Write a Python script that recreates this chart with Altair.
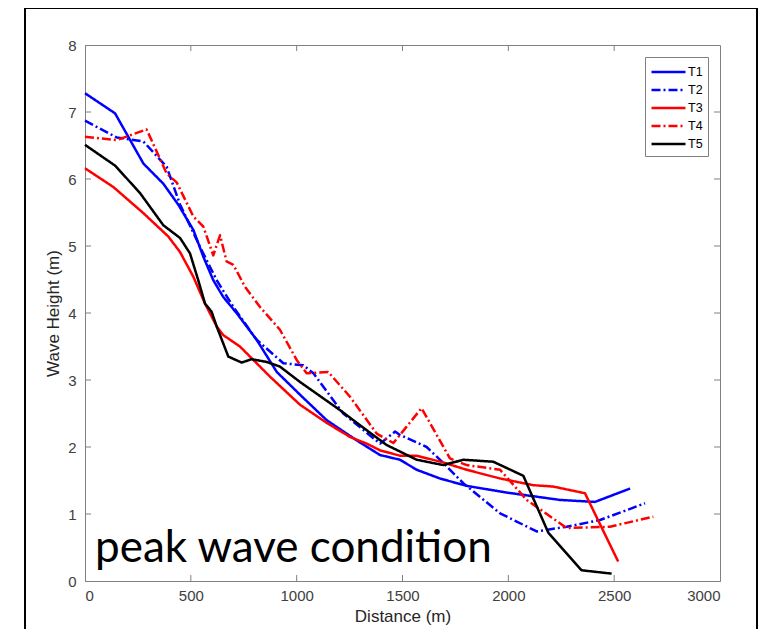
import altair as alt
import pandas as pd

# ---- data ----
T1_x = [0, 142, 276, 370, 440, 512, 559, 606, 653, 716, 811, 906, 1016, 1142, 1283, 1394, 1488, 1567, 1677, 1803, 1992, 2244, 2409, 2575]
T1_y = [7.28, 6.98, 6.23, 5.93, 5.62, 5.24, 4.84, 4.49, 4.24, 4.0, 3.6, 3.12, 2.78, 2.4, 2.1, 1.88, 1.81, 1.66, 1.53, 1.42, 1.32, 1.21, 1.18, 1.38]

T2_x = [0, 150, 276, 386, 449, 543, 622, 701, 811, 937, 1031, 1079, 1220, 1394, 1465, 1488, 1614, 1693, 1787, 1961, 2134, 2276, 2433, 2646]
T2_y = [6.87, 6.62, 6.56, 6.18, 5.62, 4.99, 4.49, 4.09, 3.6, 3.25, 3.22, 3.1, 2.5, 2.05, 2.23, 2.18, 2.0, 1.76, 1.46, 1.01, 0.74, 0.81, 0.91, 1.16]

T3_x = [0, 134, 276, 394, 449, 512, 567, 622, 653, 732, 795, 874, 1016, 1142, 1252, 1331, 1394, 1488, 1567, 1692, 1803, 1961, 2118, 2211, 2362, 2519]
T3_y = [6.16, 5.88, 5.49, 5.14, 4.91, 4.54, 4.14, 3.8, 3.67, 3.5, 3.3, 3.05, 2.63, 2.36, 2.15, 2.05, 1.95, 1.87, 1.87, 1.77, 1.66, 1.53, 1.43, 1.41, 1.31, 0.29]

T4_x = [0, 150, 291, 386, 433, 512, 559, 606, 638, 669, 701, 756, 827, 921, 1000, 1047, 1149, 1252, 1378, 1457, 1590, 1724, 1803, 1961, 2087, 2276, 2480, 2685]
T4_y = [6.63, 6.58, 6.74, 6.08, 5.95, 5.44, 5.29, 4.86, 5.16, 4.77, 4.72, 4.39, 4.09, 3.75, 3.3, 3.1, 3.12, 2.75, 2.2, 2.06, 2.58, 1.83, 1.73, 1.66, 1.21, 0.79, 0.81, 0.96]

T5_x = [0, 142, 260, 370, 449, 496, 535, 567, 598, 622, 677, 740, 787, 858, 921, 1016, 1205, 1331, 1425, 1567, 1693, 1787, 1929, 2071, 2189, 2346, 2488]
T5_y = [6.51, 6.2, 5.79, 5.31, 5.12, 4.89, 4.49, 4.14, 4.02, 3.8, 3.35, 3.26, 3.31, 3.27, 3.2, 2.97, 2.55, 2.25, 2.03, 1.81, 1.73, 1.81, 1.78, 1.57, 0.72, 0.16, 0.11]

series_names = ["T1", "T2", "T3", "T4", "T5"]
series_colors = ["#0000FF", "#0000FF", "#FF0000", "#FF0000", "#000000"]
series_dash = [[1, 0], [9, 3, 2, 3], [1, 0], [9, 3, 2, 3], [1, 0]]

x_ticks = [0, 500, 1000, 1500, 2000, 2500, 3000]
y_ticks = [0, 1, 2, 3, 4, 5, 6, 7, 8]
annotation = "peak wave condition"

# ---- build table ----
rows = []
for name, xs, ys in zip(series_names, [T1_x, T2_x, T3_x, T4_x, T5_x], [T1_y, T2_y, T3_y, T4_y, T5_y]):
    for i, (a, b) in enumerate(zip(xs, ys)):
        rows.append({"series": name, "order": i, "dist": a, "h": b})
df = pd.DataFrame(rows)

W, H = 635, 536
GRAY = "#808080"

xscale = alt.Scale(domain=[0, 3000], nice=False, zero=False)
yscale = alt.Scale(domain=[0, 8], nice=False, zero=False)

lines = alt.Chart(df).mark_line(strokeWidth=2.5, strokeJoin="round").encode(
    x=alt.X("dist:Q", scale=xscale,
            axis=alt.Axis(title="Distance (m)", values=x_ticks, format="d", ticks=False,
                          labelPadding=7, titlePadding=5, grid=False)),
    y=alt.Y("h:Q", scale=yscale,
            axis=alt.Axis(title="Wave Height (m)", values=y_ticks, format="d", ticks=False,
                          labelPadding=9, titlePadding=5, grid=False)),
    color=alt.Color("series:N", scale=alt.Scale(domain=series_names, range=series_colors),
                    legend=alt.Legend(title=None, orient="none", legendX=560, legendY=12,
                                      symbolType="M-1,0H3", symbolSize=289, symbolStrokeWidth=2.5,
                                      labelFontSize=12.5, labelFont="Liberation Sans", labelColor="#000000",
                                      fillColor="white", strokeColor=GRAY, padding=5,
                                      rowPadding=1, labelOffset=18)),
    strokeDash=alt.StrokeDash("series:N", scale=alt.Scale(domain=series_names, range=series_dash)),
    order="order:Q",
)

tdf_x = pd.DataFrame({"t": x_ticks[1:-1]})
tdf_y = pd.DataFrame({"t": y_ticks[1:-1]})
tick_style = dict(color=GRAY, strokeWidth=1)
bottom_ticks = alt.Chart(tdf_x).mark_rule(**tick_style).encode(
    x=alt.X("t:Q", scale=xscale), y=alt.value(H), y2=alt.value(H - 6))
top_ticks = alt.Chart(tdf_x).mark_rule(**tick_style).encode(
    x=alt.X("t:Q", scale=xscale), y=alt.value(0), y2=alt.value(6))
left_ticks = alt.Chart(tdf_y).mark_rule(**tick_style).encode(
    y=alt.Y("t:Q", scale=yscale), x=alt.value(0), x2=alt.value(6))
right_ticks = alt.Chart(tdf_y).mark_rule(**tick_style).encode(
    y=alt.Y("t:Q", scale=yscale), x=alt.value(W), x2=alt.value(W - 6))

label = alt.Chart(pd.DataFrame({"txt": [annotation]})).mark_text(
    align="left", baseline="alphabetic", font="Lato", fontSize=44, color="#000000"
).encode(text="txt:N", x=alt.value(10), y=alt.value(517))

frame = alt.Chart(pd.DataFrame({"a": [0]})).mark_rect(
    filled=False, stroke="#000000", strokeWidth=2, clip=False
).encode(x=alt.value(-60), x2=alt.value(672), y=alt.value(-37), y2=alt.value(700))

chart = alt.layer(
    frame, bottom_ticks, top_ticks, left_ticks, right_ticks, lines, label
).properties(
    width=W, height=H,
    autosize=alt.AutoSizeParams(type="none"),
    padding={"left": 77, "top": 37, "right": 39, "bottom": 48},
).configure(
    background="white"
).configure_view(
    stroke=GRAY, strokeWidth=1
).configure_axis(
    domainColor=GRAY, domainWidth=1,
    labelFont="Liberation Sans", labelFontSize=15, labelColor="#404040",
    titleFont="Liberation Sans", titleFontSize=17, titleColor="#262626", titleFontWeight="normal",
)

chart.save("out.html", embed_options={"renderer": "svg", "actions": False})
